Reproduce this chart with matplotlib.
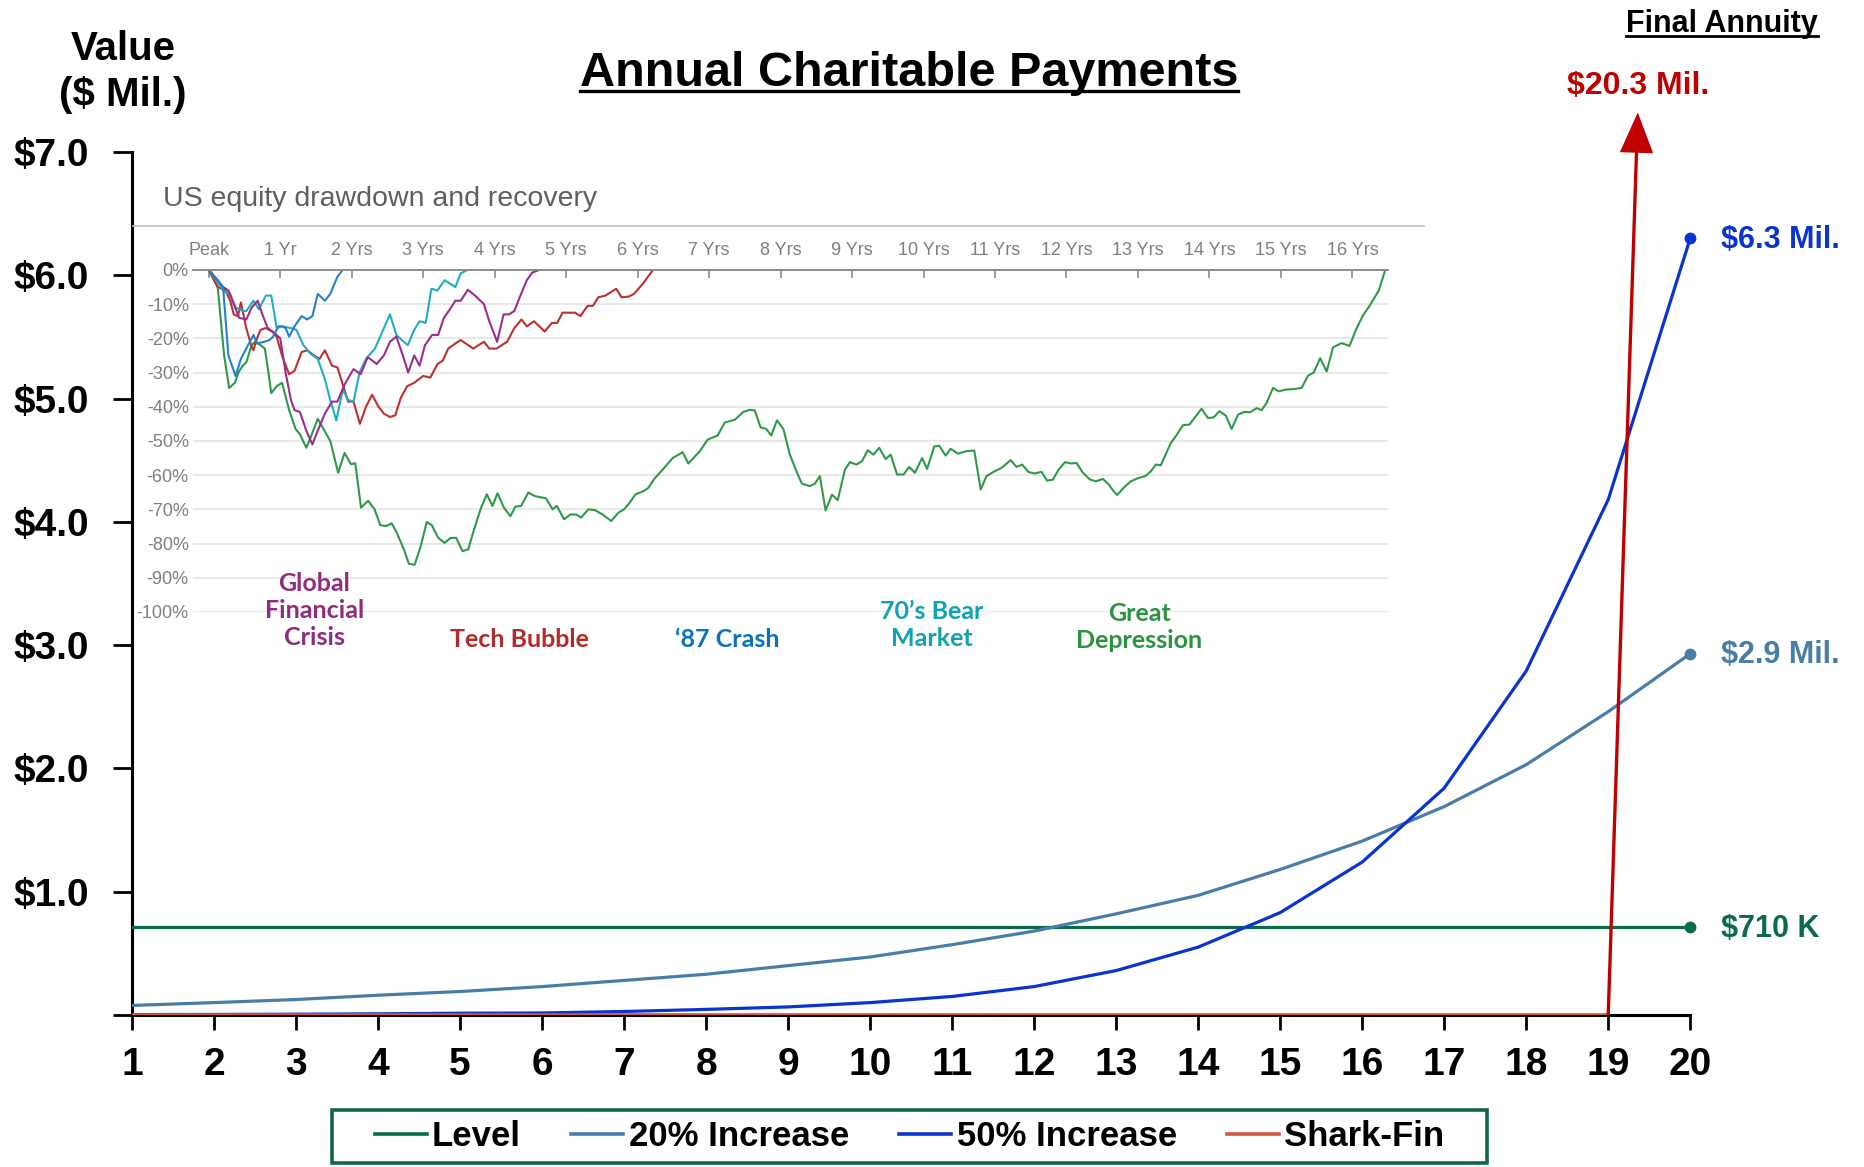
import matplotlib
matplotlib.use("Agg")
import matplotlib.pyplot as plt
from matplotlib import font_manager
from matplotlib.lines import Line2D
from matplotlib.patches import Rectangle

# ---- annual charitable payments ($ millions) ----
years = list(range(1, 21))
level = [0.71] * 20
increase_20 = [0.077, 0.10, 0.125, 0.16, 0.19, 0.23, 0.28, 0.33, 0.40, 0.47,
               0.57, 0.68, 0.82, 0.97, 1.18, 1.41, 1.69, 2.03, 2.46, 2.93]
increase_50 = [0.003, 0.004, 0.006, 0.009, 0.014, 0.016, 0.028, 0.045, 0.065, 0.10,
               0.15, 0.23, 0.36, 0.55, 0.83, 1.24, 1.84, 2.79, 4.18, 6.30]
shark_fin = [0.0] * 19 + [20.3]

# ---- US equity drawdown and recovery (years from peak, % drawdown) ----
gfc_years = [0.0, 0.125, 0.2, 0.275, 0.35, 0.425, 0.525, 0.6, 0.685, 0.75, 0.825, 0.925,
             1.0, 1.075, 1.15, 1.2, 1.275, 1.365, 1.45, 1.525, 1.625, 1.725, 1.8, 1.9,
             2.025, 2.125, 2.225, 2.35, 2.45, 2.535, 2.625, 2.715, 2.79, 2.875, 2.95,
             3.025, 3.125, 3.21, 3.29, 3.375, 3.45, 3.525, 3.625, 3.725, 3.85, 3.925,
             4.035, 4.125, 4.2, 4.275, 4.35, 4.45, 4.525, 4.625]
gfc_dd = [0, -3, -5, -6, -10, -14, -14.5, -11, -9, -13, -17, -18.5,
          -20, -30, -38, -41, -41.5, -47, -51, -47, -42, -38.5, -38.5, -33.5,
          -29, -30.5, -25.5, -27.5, -25, -21, -19.5, -25, -30, -25, -28,
          -22, -19, -19, -14, -11.5, -9, -9, -5.8, -7.5, -10, -15,
          -21, -13, -13, -12, -8, -3, -0.8, 0]

tech_years = [0.0, 0.125, 0.235, 0.3, 0.35, 0.41, 0.45, 0.525, 0.6, 0.625, 0.675, 0.725,
              0.8, 0.885, 0.95, 1.025, 1.125, 1.2, 1.3, 1.375, 1.475, 1.55, 1.625, 1.725,
              1.8, 1.875, 1.95, 2.025, 2.115, 2.2, 2.285, 2.375, 2.45, 2.535, 2.61, 2.685,
              2.775, 2.875, 3.0, 3.1, 3.2, 3.275, 3.35, 3.45, 3.525, 3.7, 3.85, 3.925,
              4.025, 4.175, 4.275, 4.375, 4.45, 4.55, 4.7, 4.8, 4.875, 4.95, 5.05, 5.125,
              5.2, 5.3, 5.375, 5.45, 5.55, 5.7, 5.775, 5.875, 5.95, 6.075, 6.215]
tech_dd = [0, -5, -6, -9, -13, -13.5, -9.5, -17, -22.5, -23.5, -20, -17.5,
           -17, -18, -19.5, -25, -30.5, -29.5, -24, -23.5, -25, -26, -23.5, -28,
           -28.5, -33.5, -38.5, -38.5, -45, -40, -36.5, -40, -42, -43, -42.5, -37.5,
           -34, -33, -31, -31.5, -27.5, -26.5, -23, -21.5, -20.5, -23, -21, -23,
           -23, -21, -17, -14.5, -16.5, -15, -18, -15.5, -15.5, -12.5, -12.5, -12.5,
           -13.5, -10.5, -10.5, -8, -7.5, -5.5, -8, -7.8, -7, -4, 0]

crash87_years = [0.0, 0.125, 0.2, 0.275, 0.375, 0.45, 0.55, 0.625, 0.675, 0.775, 0.85, 0.9,
                 0.975, 1.025, 1.075, 1.125, 1.2, 1.3, 1.375, 1.45, 1.525, 1.625, 1.7,
                 1.8, 1.875]
crash87_dd = [0, -3, -5, -25, -31, -26, -22, -19, -21.5, -21, -20.5, -19.5,
              -16.5, -16.5, -17, -19.5, -16.5, -13.5, -14.5, -13.5, -7, -9, -7,
              -2, 0]

bear70_years = [0.0, 0.225, 0.3, 0.375, 0.475, 0.525, 0.625, 0.7, 0.8, 0.875, 0.95, 1.025,
                1.15, 1.225, 1.325, 1.425, 1.525, 1.625, 1.7, 1.785, 1.875, 1.95, 2.025,
                2.11, 2.2, 2.325, 2.535, 2.625, 2.7, 2.785, 2.875, 2.95, 3.035, 3.115,
                3.2, 3.3, 3.375, 3.45, 3.525, 3.625]
bear70_dd = [0, -6.5, -7, -11, -12, -12, -9, -11.5, -7.5, -7.5, -17, -16.5,
             -17, -17.5, -22, -24.5, -26, -32, -38, -44, -35, -38, -38.5,
             -30, -26, -23, -13, -19, -20.5, -22, -17.5, -15, -15.5, -5.5,
             -6, -3, -4, -5, -1, 0]

depression_years = [
    0.0, 0.125, 0.215, 0.285, 0.365, 0.415, 0.475, 0.525, 0.6, 0.65, 0.725, 0.785,
    0.835, 0.875, 0.95, 1.025, 1.125, 1.215, 1.275, 1.365, 1.425, 1.525, 1.70, 1.81,
    1.90, 1.99, 2.05, 2.13, 2.23, 2.32, 2.40, 2.48, 2.56, 2.63, 2.73, 2.80, 2.88,
    2.96, 3.05, 3.12, 3.21, 3.30, 3.38, 3.46, 3.55, 3.63, 3.72, 3.81, 3.89, 3.97,
    4.04, 4.13, 4.22, 4.29, 4.37, 4.47, 4.56, 4.72, 4.81, 4.87, 4.97, 5.06, 5.14,
    5.21, 5.31, 5.40, 5.51, 5.63, 5.73, 5.81, 5.88, 5.97, 6.09, 6.15, 6.24, 6.35,
    6.49, 6.63, 6.71, 6.87, 6.98, 7.12, 7.22, 7.36, 7.48, 7.57, 7.64, 7.72, 7.80,
    7.87, 7.95, 8.04, 8.13, 8.23, 8.30, 8.41, 8.48, 8.55, 8.63, 8.72, 8.80, 8.90,
    8.97, 9.06, 9.14, 9.22, 9.30, 9.38, 9.47, 9.54, 9.63, 9.72, 9.80, 9.88, 9.98,
    10.05, 10.15, 10.22, 10.31, 10.38, 10.48, 10.60, 10.71, 10.80, 10.88, 10.99,
    11.09, 11.22, 11.30, 11.38, 11.47, 11.56, 11.65, 11.73, 11.81, 11.89, 11.98,
    12.07, 12.14, 12.23, 12.33, 12.41, 12.51, 12.59, 12.66, 12.71, 12.80, 12.90,
    13.01, 13.10, 13.18, 13.25, 13.32, 13.46, 13.53, 13.63, 13.72, 13.89, 13.98,
    14.06, 14.14, 14.23, 14.31, 14.40, 14.49, 14.57, 14.66, 14.73, 14.80, 14.89,
    14.97, 15.06, 15.20, 15.29, 15.38, 15.46, 15.55, 15.64, 15.73, 15.85, 15.96,
    16.05, 16.14, 16.25, 16.37, 16.46]
depression_dd = [
    0, -5, -25, -34.5, -33, -30, -28, -27, -22, -21, -22, -23,
    -30, -36, -34, -33, -41, -46.5, -48, -52, -49, -43.5, -50, -59.3,
    -53.5, -56.8, -56.5, -69.5, -67.5, -70, -74.6, -74.9, -74.1, -76.8, -81.7, -85.9, -86.2,
    -81.2, -73.7, -74.6, -78.3, -79.8, -78.4, -78.3, -82.2, -81.7, -75.3, -69.5, -65.6, -69,
    -65.3, -69.5, -72, -69.2, -69, -65.1, -66.1, -66.8, -70, -69, -72.9, -71.5, -71.5,
    -72.4, -70, -70.2, -71.5, -73.4, -71, -70, -68.3, -65.6, -64.6, -63.7, -60.9, -58.4,
    -55, -53.3, -56.6, -53, -49.6, -48.4, -44.6, -43.8, -41.5, -40.9, -41.1, -46, -46.5,
    -48.4, -44, -46.5, -54, -59.3, -62.5, -63.2, -62.5, -60.3, -70.3, -65.7, -67.3, -58.4,
    -56.2, -56.9, -55.9, -52.7, -54, -52, -55.3, -54, -59.8, -59.8, -57.6, -59.3, -55,
    -58.2, -51.6, -51.4, -54.3, -52.3, -53.7, -53, -52.8, -64.2, -60.3, -58.9,
    -57.9, -55.6, -57.6, -56.9, -59.1, -59.5, -59, -61.6, -61.3, -58.4, -56.2,
    -56.6, -56.4, -59.3, -61.3, -61.8, -61.1, -62.7, -64.7, -65.8, -63.7, -61.8,
    -60.8, -60.3, -58.9, -56.9, -57.1, -50.6, -48.6, -45.4, -45.2, -40.6, -43.3,
    -43.1, -41.3, -42.6, -46.5, -42.3, -41.5, -41.6, -40.4, -41, -38.9, -34.5,
    -35.5, -35, -34.8, -34.5, -30.9, -30, -25.8, -29.7, -22.6, -21.4, -22.2,
    -17.5, -13.6, -10.2, -6, 0]

inset_ticks = ["Peak", "1 Yr"] + [f"{n} Yrs" for n in range(2, 17)]

available = {f.name for f in font_manager.fontManager.ttflist}
NARROW = "Liberation Sans Narrow" if "Liberation Sans Narrow" in available else "Liberation Sans"
ARIAL = "Liberation Sans"
LABEL_FONT = "Lato"

LEVEL_C = "#0B6A4C"
INC20_C = "#4A7DA6"
INC50_C = "#0A33D0"
SHARK_C = "#D0573C"
SPIKE_C = "#C00000"

fig = plt.figure(figsize=(18.65, 11.67), dpi=100)
fig.patch.set_facecolor("white")

# ---------------- main chart ----------------
ax = fig.add_axes([0.0708, 0.1303, 0.8355, 0.7395])
ax.plot(years, level, color=LEVEL_C, lw=2.3, label="Level", zorder=3)
ax.plot(years, increase_20, color=INC20_C, lw=2.3, label="20% Increase", zorder=3)
ax.plot(years, increase_50, color=INC50_C, lw=2.3, label="50% Increase", zorder=3)
ax.plot(years[:19], shark_fin[:19], color=SHARK_C, lw=2.6, label="Shark-Fin", zorder=4)
ax.plot(years[18:], shark_fin[18:], color=SPIKE_C, lw=2.4, zorder=5)

for series, col in [(level, LEVEL_C), (increase_20, INC20_C), (increase_50, INC50_C)]:
    ax.plot(years[-1], series[-1], "o", ms=7.5, color=col, clip_on=False, zorder=6)

end_labels = [
    (increase_50[-1], f"${increase_50[-1]:.1f} Mil.", INC50_C),
    (increase_20[-1], f"${increase_20[-1]:.1f} Mil.", INC20_C),
    (level[-1], f"${level[-1] * 1000:.0f} K", LEVEL_C),
]
for val, txt, col in end_labels:
    ax.annotate(txt, (years[-1], val), xytext=(22, -1), textcoords="offset points",
                ha="left", va="center", fontsize=22, fontweight="bold",
                family=ARIAL, color=col, annotation_clip=False)

ax.set_xlim(1, 20)
ax.set_ylim(0, 7)

# arrow head where the shark-fin spike leaves the plot
y_top, y_tip = 7.0, 7.32
slope = (shark_fin[-1] - shark_fin[-2]) / (years[-1] - years[-2])
x_top = years[-2] + (y_top - shark_fin[-2]) / slope
x_tip = years[-2] + (y_tip - shark_fin[-2]) / slope
ax.annotate("", xy=(x_tip, y_tip), xytext=(x_top, y_top), annotation_clip=False,
            arrowprops=dict(arrowstyle="-|>,head_length=2.9,head_width=1.2",
                            mutation_scale=10, color=SPIKE_C, lw=0,
                            shrinkA=0, shrinkB=0))
ax.annotate(f"${shark_fin[-1]:.1f} Mil.", (x_tip, y_tip), xytext=(0, 19),
            textcoords="offset points", ha="center", va="center", fontsize=23,
            fontweight="bold", family=ARIAL, color=SPIKE_C, annotation_clip=False)

for side in ["top", "right"]:
    ax.spines[side].set_visible(False)
for side in ["left", "bottom"]:
    ax.spines[side].set_linewidth(2.2)
    ax.spines[side].set_color("black")

ax.set_yticks(range(0, 8))
ax.set_yticklabels([""] + [f"${v:.1f}" for v in range(1, 8)])
ax.set_xticks(years)
ax.set_xticklabels([str(y) for y in years])
ax.tick_params(axis="y", length=14, width=2, pad=17, labelsize=28)
ax.tick_params(axis="x", length=11, width=2, pad=12, labelsize=28)
for lbl in ax.get_yticklabels():
    lbl.set_fontweight("bold")
    lbl.set_family(ARIAL)
for lbl in ax.get_xticklabels():
    lbl.set_fontweight("bold")
    lbl.set_family(NARROW)

fig.text(0.066, 1 - 49 / 1167, "Value", ha="center", va="center",
         fontsize=29, fontweight="bold", family=NARROW)
fig.text(0.066, 1 - 95 / 1167, "($ Mil.)", ha="center", va="center",
         fontsize=29, fontweight="bold", family=NARROW)

title = fig.text(0.4874, 1 - 86 / 1167, "Annual Charitable Payments", ha="center",
                 va="baseline", fontsize=35, fontweight="bold", family=ARIAL)
final = fig.text(0.9233, 1 - 32 / 1167, "Final Annuity", ha="center", va="baseline",
                 fontsize=22, fontweight="bold", family=ARIAL)

leg = fig.legend(loc="center", bbox_to_anchor=(0.4877, 0.0261), ncol=4, frameon=False,
                 handlelength=1.5, handletextpad=0.15, columnspacing=1.45, borderpad=0.3,
                 prop={"family": NARROW, "weight": "bold", "size": 25})
for h in leg.get_lines():
    h.set_linewidth(2.6)

# ---------------- drawdown inset ----------------
ax_in = fig.add_axes([0.1035, 0.4756, 0.6408, 0.2931])
ax_in.patch.set_alpha(0)
ax_in.plot(depression_years, depression_dd, color="#2E9A48", lw=1.5)
ax_in.plot(tech_years, tech_dd, color="#BC3030", lw=1.5)
ax_in.plot(bear70_years, bear70_dd, color="#1EAFBE", lw=1.5)
ax_in.plot(gfc_years, gfc_dd, color="#9A2E8E", lw=1.5)
ax_in.plot(crash87_years, crash87_dd, color="#2480CC", lw=1.5)

ax_in.set_xlim(-0.22, 16.5)
ax_in.set_ylim(-100, 0)
for side in ["bottom", "left", "right"]:
    ax_in.spines[side].set_visible(False)
ax_in.spines["top"].set_color("#8C8C8C")
ax_in.spines["top"].set_linewidth(1.4)
ax_in.set_yticks(range(-100, 1, 10))
ax_in.set_yticklabels([f"{v}%" for v in range(-100, 1, 10)])
ax_in.yaxis.grid(True, color="#E4E4E4", lw=1.2)
ax_in.set_axisbelow(True)
ax_in.xaxis.tick_top()
ax_in.set_xticks(range(17))
ax_in.set_xticklabels(inset_ticks)
ax_in.tick_params(axis="x", direction="in", length=6, width=1.2, color="#8C8C8C",
                  pad=8, labelsize=13, labelcolor="#7F7F7F")
ax_in.tick_params(axis="y", length=0, pad=3, labelsize=13, labelcolor="#7F7F7F")
for lbl in ax_in.get_xticklabels() + ax_in.get_yticklabels():
    lbl.set_family(ARIAL)

crisis_labels = [
    (1.48, -99.6, "Global\nFinancial\nCrisis", "#8E2C80"),
    (4.35, -108, "Tech Bubble", "#B22A2A"),
    (7.25, -108, "\u201887 Crash", "#0B72BC"),
    (10.12, -103.7, "70\u2019s Bear\nMarket", "#12A2B0"),
    (13.02, -104.5, "Great\nDepression", "#2A9340"),
]
for x, y, txt, col in crisis_labels:
    ax_in.text(x, y, txt, ha="center", va="center", color=col, fontsize=18,
               fontweight="bold", family=LABEL_FONT, clip_on=False, linespacing=1.2)

fig.text(0.0874, 1 - 199 / 1167, "US equity drawdown and recovery", ha="left",
         va="center", fontsize=20.5, color="#5F5F5F", family=ARIAL)
fig.add_artist(Line2D([133 / 1865, 1424 / 1865], [1 - 226 / 1167] * 2,
                      color="#BFBFBF", lw=1.2))


def underline(text, gap_px, lw):
    renderer = fig.canvas.get_renderer()
    bb = text.get_window_extent(renderer)
    _, base = fig.transFigure.transform(text.get_position())
    inv = fig.transFigure.inverted()
    (x0, y0), (x1, _) = inv.transform([(bb.x0, base - gap_px), (bb.x1, base - gap_px)])
    fig.add_artist(Line2D([x0, x1], [y0, y0], color="black", lw=lw))


fig.canvas.draw()
underline(title, 5, 2.4)
underline(final, 4, 2.0)

# legend box, padded wider than the entries
renderer = fig.canvas.get_renderer()
lb = leg.get_window_extent(renderer)
inv = fig.transFigure.inverted()
(bx0, by0), (bx1, by1) = inv.transform([(lb.x0 - 32, lb.y0), (lb.x1 + 32, lb.y1)])
fig.add_artist(Rectangle((bx0, by0), bx1 - bx0, by1 - by0, fill=False,
                         edgecolor="#11664A", lw=2.6))

fig.savefig("out.png", dpi=100, facecolor="white")
